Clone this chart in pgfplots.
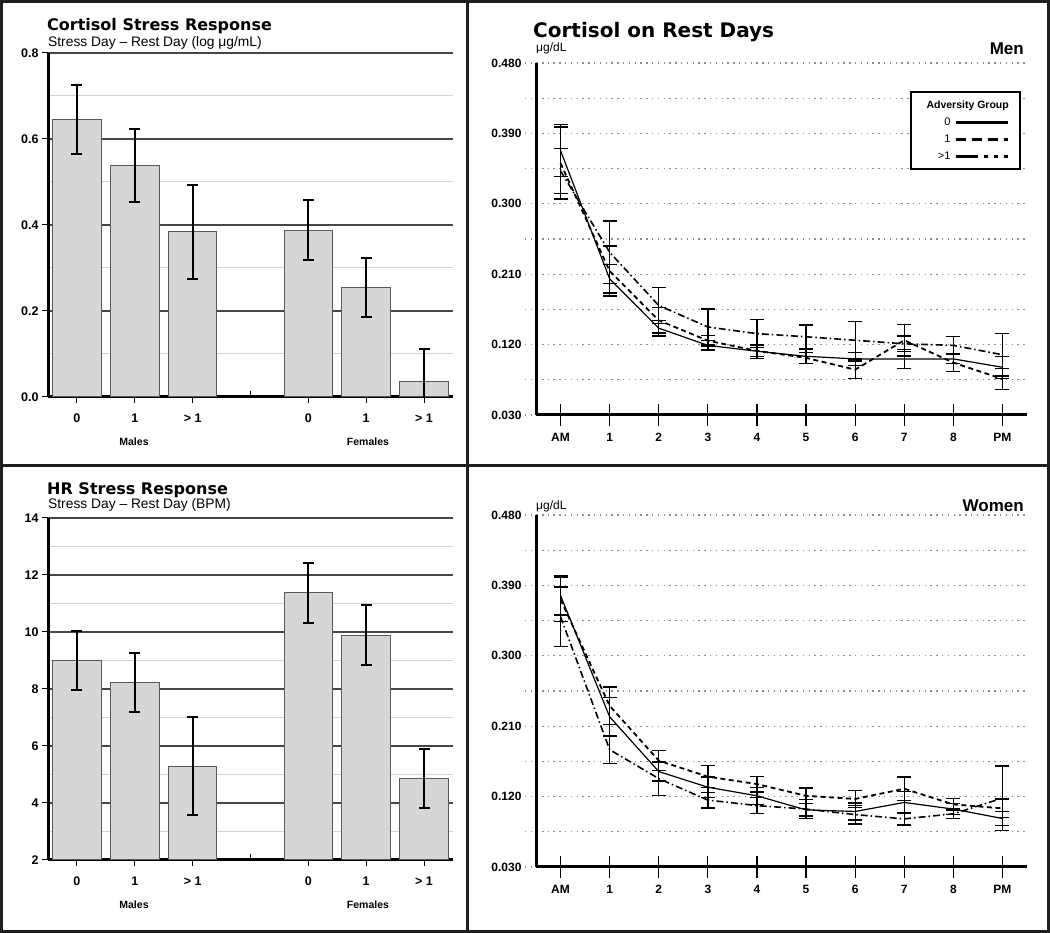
\documentclass[border=0pt]{standalone}
\usepackage{pgfplots}
\pgfplotsset{compat=1.18}
\usepackage{fontspec}
\setmainfont{Liberation Sans}
\newfontfamily\titlefont{DejaVu Sans}

\definecolor{barfill}{RGB}{214,214,214}
\definecolor{bardraw}{RGB}{90,90,90}
\definecolor{majgrid}{RGB}{70,70,70}
\definecolor{mingrid}{RGB}{210,210,210}
\definecolor{dotgrid}{RGB}{140,140,140}
\definecolor{framecol}{RGB}{30,30,30}

\pgfplotsset{
  barpanel/.style={
    scale only axis, width=405pt,
    axis x line*=bottom, axis y line*=left,
    axis line style={line width=3pt, -, black},
    xmin=-0.5, xmax=6.5,
    xtick={0,1,2,4,5,6}, xticklabels={0,1,{> 1},0,1,{> 1}},
    extra x ticks={3}, extra x tick labels={},
    extra x tick style={tick align=inside},
    tick align=outside, major tick length=6pt, minor tick length=0pt,
    tick style={black, line width=1pt},
    minor y tick num=1,
    ymajorgrids, yminorgrids,
    major grid style={majgrid, line width=1.4pt},
    minor grid style={mingrid, line width=1pt},
    /pgf/number format/assume math mode=true,
    tick label style={font=\bfseries\fontsize{12.5}{12.5}\selectfont},
    xticklabel style={yshift=-7pt},
    bar width=0.84,
  },
  barstyle/.style={ybar, fill=barfill, draw=bardraw, line width=1pt,
    error bars/.cd, y dir=both, y explicit,
    error bar style={line width=2pt, black, solid},
    error mark options={rotate=90, line width=2pt, mark size=5.5pt, black}},
  linepanel/.style={
    scale only axis, width=491pt,
    axis x line*=bottom, axis y line*=left,
    axis line style={line width=3pt, -, black},
    xmin=-0.5, xmax=9.5, ymin=0.03, ymax=0.48,
    xtick={0,...,9}, xticklabels={AM,1,2,3,4,5,6,7,8,PM},
    ytick={0.03,0.12,0.21,0.30,0.39,0.48},
    yticklabels={0.030,0.120,0.210,0.300,0.390,0.480},
    minor y tick num=1,
    tick align=center, major tick length=22pt, minor tick length=22pt,
    xtick style={black, line width=1.2pt, solid},
    ytick style={dotgrid, line width=1.3pt, dash pattern=on 1.3pt off 4.5pt},
    ymajorgrids, yminorgrids,
    major grid style={dotgrid, line width=1.3pt, dash pattern=on 1.3pt off 4.5pt},
    minor grid style={dotgrid, line width=1.3pt, dash pattern=on 1.3pt off 4.5pt},
    tick label style={font=\bfseries\fontsize{12}{12}\selectfont},
    xticklabel style={yshift=-4pt},
  },
  errs/.style={error bars/.cd, y dir=both, y explicit,
    error bar style={line width=1.3pt, black, solid},
    error mark options={rotate=90, line width=1.3pt, mark size=7pt, black, solid}},
  grp0/.style={black, line width=1.2pt, solid, mark=none, errs},
  grp1/.style={black, line width=1.8pt, dash pattern=on 5pt off 3.5pt, mark=none, errs},
  grp2/.style={black, line width=1.6pt, dash pattern=on 7pt off 3pt on 1.5pt off 3pt, mark=none, errs},
}

\begin{document}
\begin{tikzpicture}
\useasboundingbox (0pt,0pt) rectangle (1050pt,933pt);

% ---------------- top left: cortisol stress response
\begin{axis}[barpanel, at={(48pt,536pt)}, anchor=south west, height=344pt,
  ymin=0, ymax=0.8, ytick={0,0.2,0.4,0.6,0.8},
  yticklabels={0.0,0.2,0.4,0.6,0.8}]
\addplot[barstyle] coordinates {
  (0,0.645) +- (0,0.080)
  (1,0.538) +- (0,0.085)
  (2,0.384) +- (0,0.110)
  (4,0.388) +- (0,0.069)
  (5,0.255) +- (0,0.069)
  (6,0.037) +- (0,0.075)
};
\end{axis}

% ---------------- bottom left: HR stress response
\begin{axis}[barpanel, at={(48pt,73pt)}, anchor=south west, height=342pt,
  ymin=2, ymax=14, ytick={2,4,6,8,10,12,14}]
\addplot[barstyle] coordinates {
  (0,9.01) +- (0,1.04)
  (1,8.23) +- (0,1.05)
  (2,5.29) +- (0,1.71)
  (4,11.37) +- (0,1.04)
  (5,9.89) +- (0,1.05)
  (6,4.86) +- (0,1.04)
};
\end{axis}

% ---------------- top right: men
\begin{axis}[linepanel, at={(536pt,518pt)}, anchor=south west, height=352pt,
  legend style={at={(1,1)}, anchor=north east, xshift=-6pt, yshift=-28pt,
    draw=black, line width=2pt, font=\fontsize{11}{12}\selectfont,
    inner xsep=4pt, inner ysep=7pt, row sep=5pt, nodes={inner sep=1.5pt}},
  legend cell align=right, legend plot pos=right,
  legend image code/.code={\path[draw=none, fill=none] (0pt,-2pt) rectangle (64pt,2pt); \draw[line width=2.8pt, #1] (4pt,0pt) -- (56pt,0pt);}]
\addplot[forget plot, grp0] coordinates {
  (0,0.368) +- (0,0.033) (1,0.204) +- (0,0.018) (2,0.141) +- (0,0.010)
  (3,0.119) +- (0,0.006) (4,0.1115) +- (0,0.009) (5,0.105) +- (0,0.009)
  (6,0.1017) +- (0,0.0085) (7,0.1017) +- (0,0.012) (8,0.1017) +- (0,0.006)
  (9,0.091) +- (0,0.014)
};
\addplot[forget plot, grp1] coordinates {
  (0,0.352) +- (0,0.046) (1,0.214) +- (0,0.032) (2,0.151) +- (0,0.016)
  (3,0.125) +- (0,0.007) (4,0.112) +- (0,0.007) (5,0.103) +- (0,0.007)
  (6,0.088) +- (0,0.011) (7,0.1255) +- (0,0.020) (8,0.097) +- (0,0.011)
  (9,0.076) +- (0,0.013)
};
\addplot[forget plot, grp2] coordinates {
  (0,0.342) +- (0,0.029) (1,0.238) +- (0,0.040) (2,0.170) +- (0,0.023)
  (3,0.1425) +- (0,0.023) (4,0.134) +- (0,0.018) (5,0.130) +- (0,0.015)
  (6,0.1255) +- (0,0.024) (7,0.121) +- (0,0.010) (8,0.119) +- (0,0.011)
  (9,0.107) +- (0,0.027)
};
\addlegendimage{empty legend}
\addlegendentry{\makebox[0pt][l]{\hspace*{-24pt}\bfseries\fontsize{10.5}{11}\selectfont Adversity Group}}
\addlegendimage{black, solid}
\addlegendentry{\makebox[34pt][r]{0}}
\addlegendimage{black, dash pattern=on 10pt off 6pt}
\addlegendentry{\makebox[34pt][r]{1}}
\addlegendimage{black, dash pattern=on 22pt off 6pt on 4pt off 6pt on 4pt off 6pt}
\addlegendentry{\makebox[34pt][r]{>1}}
\end{axis}

% ---------------- bottom right: women
\begin{axis}[linepanel, at={(536pt,66pt)}, anchor=south west, height=352pt]
\addplot[grp0] coordinates {
  (0,0.377) +- (0,0.025) (1,0.222) +- (0,0.025) (2,0.152) +- (0,0.012)
  (3,0.132) +- (0,0.013) (4,0.121) +- (0,0.011) (5,0.103) +- (0,0.008)
  (6,0.101) +- (0,0.011) (7,0.1125) +- (0,0.014) (8,0.104) +- (0,0.007)
  (9,0.092) +- (0,0.009)
};
\addplot[grp1] coordinates {
  (0,0.372) +- (0,0.028) (1,0.236) +- (0,0.024) (2,0.166) +- (0,0.013)
  (3,0.1455) +- (0,0.014) (4,0.136) +- (0,0.010) (5,0.121) +- (0,0.010)
  (6,0.117) +- (0,0.011) (7,0.130) +- (0,0.015) (8,0.110) +- (0,0.008)
  (9,0.105) +- (0,0.012)
};
\addplot[grp2] coordinates {
  (0,0.350) +- (0,0.038) (1,0.180) +- (0,0.018) (2,0.143) +- (0,0.022)
  (3,0.1155) +- (0,0.010) (4,0.1085) +- (0,0.010) (5,0.104) +- (0,0.012)
  (6,0.097) +- (0,0.012) (7,0.0915) +- (0,0.008) (8,0.098) +- (0,0.006)
  (9,0.118) +- (0,0.041)
};
\end{axis}

% ---------------- titles and labels
\node[anchor=base west, inner sep=0pt, font=\titlefont\bfseries\fontsize{16}{16}\selectfont] at (47pt,902pt) {Cortisol Stress Response};
\node[anchor=base west, inner sep=0pt, font=\fontsize{13.8}{13.8}\selectfont] at (48pt,886pt) {Stress Day -- Rest Day (log μg/mL)};
\node[font=\bfseries\fontsize{10.5}{10.5}\selectfont] at (134pt,491pt) {Males};
\node[font=\bfseries\fontsize{10.5}{10.5}\selectfont] at (368pt,491pt) {Females};

\node[anchor=base west, inner sep=0pt, font=\titlefont\bfseries\fontsize{16}{16}\selectfont] at (47pt,438pt) {HR Stress Response};
\node[anchor=base west, inner sep=0pt, font=\fontsize{13.8}{13.8}\selectfont] at (48pt,424pt) {Stress Day -- Rest Day (BPM)};
\node[font=\bfseries\fontsize{10.5}{10.5}\selectfont] at (134pt,28pt) {Males};
\node[font=\bfseries\fontsize{10.5}{10.5}\selectfont] at (368pt,28pt) {Females};

\node[anchor=base west, inner sep=0pt, font=\titlefont\bfseries\fontsize{20}{20}\selectfont] at (533pt,895pt) {Cortisol on Rest Days};
\node[anchor=base west, inner sep=0pt, font=\fontsize{12}{12}\selectfont] at (536pt,881pt) {μg/dL};
\node[anchor=base east, inner sep=0pt, font=\bfseries\fontsize{17}{17}\selectfont] at (1024pt,878pt) {Men};
\node[anchor=base west, inner sep=0pt, font=\fontsize{12}{12}\selectfont] at (536pt,423pt) {μg/dL};
\node[anchor=base east, inner sep=0pt, font=\bfseries\fontsize{17}{17}\selectfont] at (1024pt,421pt) {Women};

% ---------------- panel frame
\draw[framecol, line width=3pt] (1.5pt,1.5pt) rectangle (1048.5pt,931.5pt);
\draw[framecol, line width=3pt] (467.5pt,0pt) -- (467.5pt,933pt);
\draw[framecol, line width=3pt] (0pt,467.5pt) -- (1050pt,467.5pt);
\end{tikzpicture}
\end{document}
